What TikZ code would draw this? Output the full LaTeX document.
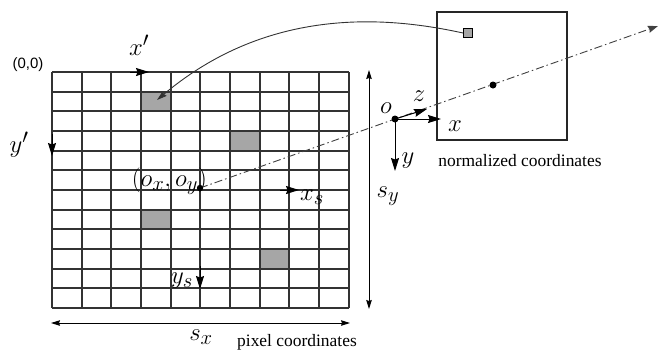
\documentclass[tikz,border=0pt]{standalone}
\usepackage{fontspec}
\newfontfamily\labelserif{Liberation Serif}
\newfontfamily\labelsans{Liberation Sans}
\usetikzlibrary{arrows.meta}
\begin{document}
\begin{tikzpicture}[x=1bp,y=-1bp,
  ax/.style={-{Stealth[length=13bp,width=8bp,inset=1.5bp]}, line width=1bp},
  dim/.style={{Stealth[length=9bp,width=5.5bp,inset=1bp]}-{Stealth[length=9bp,width=5.5bp,inset=1bp]}, line width=0.9bp},
  mlabel/.style={font=\fontsize{28}{32}\selectfont, inner sep=0pt},
  txt/.style={font=\labelserif\fontsize{17.5}{20}\selectfont, inner sep=0pt},
  cell/.style={fill=black!35},
  gridline/.style={line width=1.4bp, draw=black!80},
  dashdotline/.style={line width=0.9bp, draw=black!75, dash pattern=on 8bp off 3bp on 1.5bp off 3bp}]
\useasboundingbox (0,0) rectangle (659,349);
% gray cells
\fill[cell] (141,92) rectangle (171,111);
\fill[cell] (230,131) rectangle (260,151);
\fill[cell] (141,210) rectangle (171,229);
\fill[cell] (260,249) rectangle (289,269);
% pixel grid
\foreach \gx in {52,82,111,141,171,200,230,260,289,319,349} \draw[gridline] (\gx,72) -- (\gx,308);
\foreach \gy in {72,92,111,131,151,170,190,210,229,249,269,288,308} \draw[gridline] (52,\gy) -- (349,\gy);
% normalized box
\draw[line width=1.3bp, draw=black!85] (437,12) rectangle (567,140);
\node[draw, fill=black!35, minimum size=9bp, inner sep=0pt, line width=1bp] (sq) at (468,33) {};
% coordinates
\coordinate (oxy) at (200,188);
\coordinate (far) at (658,26);
\coordinate (O) at (395,119);
\coordinate (P) at (493,85);
\coordinate (cellp) at (157,100);
% dash-dot ray
\draw[dashdotline, -{Stealth[length=10bp,width=7bp,inset=1bp]}] (oxy) -- (far);
\fill (oxy) circle (3.2bp);
\fill (O) circle (3.5bp);
\fill (P) circle (3.5bp);
% curve
\draw[line width=0.9bp, draw=black!80, -{Stealth[length=10bp,width=6bp,inset=1bp]}] (sq.west) .. controls (390,17) and (270,5) .. (cellp);
% axes
\coordinate (xpa) at (130,72); \coordinate (xpb) at (149,72);
\draw[ax] (xpa) -- (xpb);
\coordinate (ypa) at (52,134); \coordinate (ypb) at (52,156);
\draw[ax] (ypa) -- (ypb);
\coordinate (xsa) at (280,190); \coordinate (xsb) at (299,190);
\draw[ax] (xsa) -- (xsb);
\coordinate (ysa) at (200,266); \coordinate (ysb) at (200,289);
\draw[ax] (ysa) -- (ysb);
\coordinate (sya) at (369,70); \coordinate (syb) at (369,309);
\draw[dim] (sya) -- (syb);
\coordinate (sxa) at (51,323); \coordinate (sxb) at (350,323);
\draw[dim] (sxa) -- (sxb);
\coordinate (xt) at (441,119); \coordinate (yt) at (395,171); \coordinate (zt) at (427,109);
\draw[ax] (O) -- (xt);
\draw[ax] (O) -- (yt);
\draw[ax] (O) -- (zt);
% labels
\node[font=\labelsans\fontsize{15}{17}\selectfont, inner sep=0pt] (orig) at (28,65) {(0,0)};
\node[mlabel] (lxp) at (139,45) {$x'$};
\node[mlabel] (lyp) at (19,145) {$y'$};
\node[mlabel, anchor=east] (loxy) at (207,181) {$(o_x,o_y)$};
\node[mlabel] (lxs) at (312,197) {$x_s$};
\node[mlabel] (lys) at (182,281) {$y_s$};
\node[mlabel] (lsy) at (388,196) {$s_y$};
\node[mlabel] (lsx) at (201,337) {$s_x$};
\node[mlabel] (lo) at (386,108) {$o$};
\node[mlabel] (lz) at (419,96) {$z$};
\node[mlabel] (lx) at (455,126) {$x$};
\node[mlabel] (ly) at (408,161) {$y$};
\node[txt] (pix) at (297,342) {pixel coordinates};
\node[txt] (norm) at (520,161) {normalized coordinates};
\end{tikzpicture}
\end{document}
